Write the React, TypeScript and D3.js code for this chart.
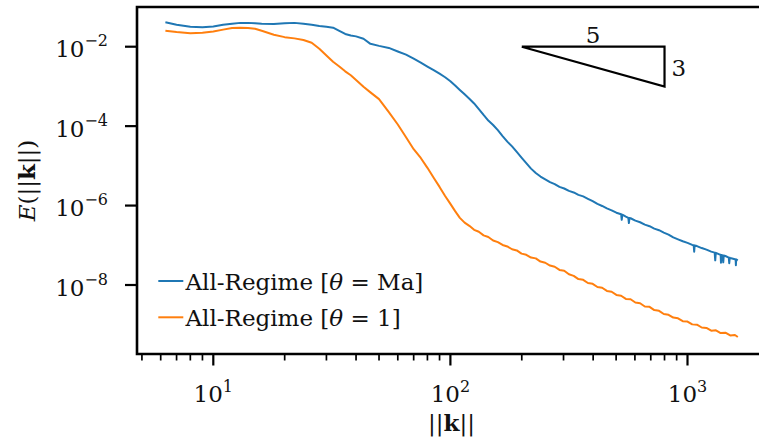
import React from 'react';
import * as d3 from 'd3';

// ---------- data ----------
const kValues = [
  6.28, 7, 8, 9, 10, 11, 12, 13, 14, 15, 16, 18, 20, 22, 24, 26, 28, 30, 32, 34, 36, 38, 40, 43, 46, 50,
  55, 60, 65, 70, 75, 80, 85, 90, 95,
  100, 104.7, 109.6, 114.8, 120.2, 125.9, 131.8, 138.0, 144.5, 151.4, 158.5, 166.0, 173.8, 182.0, 190.5,
  199.5, 208.9, 218.8, 229.1, 239.9, 251.2, 263.0, 275.4, 288.4, 302.0, 316.2, 331.1, 346.7, 363.1, 380.2,
  398.1, 416.9, 436.5, 457.1, 478.6, 501.2, 524.8, 549.5, 575.4, 602.6, 631.0, 660.7, 691.8, 724.4, 758.6,
  794.3, 831.8, 871.0, 912.0, 955.0, 1000, 1047, 1096, 1148, 1202, 1259, 1318, 1380, 1445, 1514, 1585, 1630,
];

const blueE = [
  4.12e-2, 3.55e-2, 3.16e-2, 3.09e-2, 3.24e-2, 3.55e-2, 3.80e-2, 3.98e-2, 3.98e-2, 3.89e-2, 3.80e-2, 3.72e-2,
  3.89e-2, 3.98e-2, 3.80e-2, 3.55e-2, 3.31e-2, 3.16e-2, 3.02e-2, 2.51e-2, 2.09e-2, 1.91e-2, 1.82e-2, 1.58e-2,
  1.18e-2, 1.05e-2, 9.33e-3, 7.59e-3, 6.31e-3, 5.01e-3, 3.98e-3, 3.16e-3, 2.57e-3, 2.09e-3, 1.70e-3,
  1.35e-3, 1.05e-3, 8.13e-4, 6.31e-4, 4.90e-4, 3.72e-4, 2.69e-4, 1.91e-4, 1.38e-4, 1.07e-4, 7.94e-5, 5.62e-5,
  4.07e-5, 3.09e-5, 2.24e-5, 1.62e-5, 1.17e-5, 8.51e-6, 6.61e-6, 5.37e-6, 4.57e-6, 3.89e-6, 3.47e-6, 2.95e-6,
  2.69e-6, 2.34e-6, 2.14e-6, 1.86e-6, 1.70e-6, 1.48e-6, 1.29e-6, 1.10e-6, 9.77e-7, 8.51e-7, 7.59e-7, 6.61e-7,
  6.03e-7, 5.25e-7, 4.79e-7, 4.17e-7, 3.80e-7, 3.31e-7, 3.02e-7, 2.63e-7, 2.40e-7, 2.09e-7, 1.86e-7, 1.58e-7,
  1.41e-7, 1.26e-7, 1.15e-7, 1.02e-7, 9.55e-8, 8.51e-8, 7.76e-8, 6.92e-8, 6.46e-8, 5.75e-8, 5.37e-8, 4.79e-8,
  4.47e-8, 4.17e-8,
];

// narrow downward spikes of the blue spectrum at high wavenumber
const blueSpikes: [number, number][] = [
  [525, 5.96e-7], [528, 4.37e-7], [531, 5.89e-7],
  [563, 4.90e-7], [566, 3.63e-7], [569, 4.84e-7],
  [1062, 1.00e-7], [1067, 6.92e-8], [1072, 9.90e-8],
  [1302, 6.53e-8], [1309, 4.17e-8], [1316, 6.46e-8],
  [1377, 5.75e-8], [1384, 3.63e-8], [1391, 5.70e-8],
  [1408, 5.56e-8], [1415, 3.72e-8], [1422, 5.50e-8],
  [1493, 4.90e-8], [1500, 3.55e-8], [1507, 4.84e-8],
  [1596, 4.42e-8], [1600, 3.16e-8], [1604, 4.40e-8],
];

const orangeE = [
  2.51e-2, 2.34e-2, 2.19e-2, 2.24e-2, 2.40e-2, 2.69e-2, 2.95e-2, 3.02e-2, 2.95e-2, 2.82e-2, 2.51e-2, 2.00e-2,
  1.74e-2, 1.62e-2, 1.48e-2, 1.26e-2, 8.91e-3, 6.03e-3, 4.17e-3, 3.16e-3, 2.40e-3, 1.91e-3, 1.45e-3, 9.77e-4,
  7.08e-4, 4.79e-4, 2.24e-4, 1.10e-4, 5.25e-5, 2.63e-5, 1.58e-5, 8.91e-6, 5.01e-6, 2.95e-6, 1.74e-6,
  1.10e-6, 7.24e-7, 4.90e-7, 3.72e-7, 3.09e-7, 2.45e-7, 2.19e-7, 1.78e-7, 1.62e-7, 1.32e-7, 1.20e-7, 1.02e-7,
  9.33e-8, 7.94e-8, 7.41e-8, 6.17e-8, 5.75e-8, 4.90e-8, 4.68e-8, 3.89e-8, 3.63e-8, 3.09e-8, 2.88e-8, 2.40e-8,
  2.29e-8, 1.86e-8, 1.70e-8, 1.41e-8, 1.35e-8, 1.12e-8, 1.07e-8,
  8.91e-9, 8.51e-9, 7.08e-9, 6.76e-9, 5.62e-9, 5.37e-9, 4.47e-9, 4.37e-9, 3.63e-9, 3.47e-9, 2.88e-9, 2.82e-9,
  2.34e-9, 2.24e-9, 1.86e-9, 1.78e-9, 1.51e-9, 1.45e-9, 1.23e-9, 1.20e-9, 1.02e-9, 1.00e-9,
  8.51e-10, 8.32e-10, 7.08e-10, 7.24e-10, 6.17e-10, 6.31e-10, 5.37e-10, 5.50e-10, 4.90e-10,
];

const seriesLabels = ['Ma', '1'];
const seriesColors = ['#1f77b4', '#ff7f0e'];

const xMajorTicks = [10, 100, 1000];
const xMajorExp = ['1', '2', '3'];
const xMinorTicks = [5, 6, 7, 8, 9, 20, 30, 40, 50, 60, 70, 80, 90, 200, 300, 400, 500, 600, 700, 800, 900];
const yMajorTicks = [1e-2, 1e-4, 1e-6, 1e-8];
const yMajorExp = ['\u22122', '\u22124', '\u22126', '\u22128'];

// slope triangle (k^{-5/3})
const triK = [200, 800];
const triE = [1e-2, 9.92e-4];

// ---------- layout ----------
const W = 759;
const H = 441;
const AX = { left: 137, right: 766, top: 7, bottom: 354 };
const FONT = 'DejaVu Serif';
const FS = 23;
const SUP = 16;

export default function App() {
  const x = d3.scaleLog().domain([10, 1000]).range([213.3, 687.5]);
  const y = d3.scaleLog().domain([1e-2, 1e-8]).range([46.7, 285]);
  const line = d3
    .line<[number, number]>()
    .x((d) => x(d[0]))
    .y((d) => y(d[1]));

  const bluePts: [number, number][] = kValues
    .map((k, i) => [k, blueE[i]] as [number, number])
    .concat(blueSpikes)
    .sort((a, b) => a[0] - b[0]);
  const orangePts: [number, number][] = kValues.map((k, i) => [k, orangeE[i]] as [number, number]);

  const triPath = line([
    [triK[0], triE[0]],
    [triK[1], triE[0]],
    [triK[1], triE[1]],
    [triK[0], triE[0]],
  ] as [number, number][]);

  const legendY = [281, 317.3];

  return (
    <svg
      width={W}
      height={H}
      style={{ position: 'absolute', left: 0, top: 0, background: '#fff' }}
      fontFamily={FONT}
    >
      <rect x={0} y={0} width={W} height={H} fill="#fff" />

      {/* curves */}
      <path d={line(bluePts) || ''} fill="none" stroke={seriesColors[0]} strokeWidth={2} strokeLinejoin="round" />
      <path d={line(orangePts) || ''} fill="none" stroke={seriesColors[1]} strokeWidth={2} strokeLinejoin="round" />

      {/* slope triangle */}
      <path d={triPath || ''} fill="none" stroke="#000" strokeWidth={2.2} strokeLinejoin="miter" />
      <text x={(x(triK[0]) + x(triK[1])) / 2} y={y(triE[0]) - 3.5} fontSize={FS} textAnchor="middle" fill="#111">
        5
      </text>
      <text x={x(triK[1]) + 7} y={(y(triE[0]) + y(triE[1])) / 2 + 9} fontSize={FS} fill="#111">
        3
      </text>

      {/* spines */}
      <path
        d={`M${AX.left},${AX.top}H${AX.right}M${AX.left},${AX.bottom}H${AX.right}M${AX.left},${AX.top - 1.25}V${AX.bottom + 1.25}M${AX.right},${AX.top}V${AX.bottom}`}
        stroke="#000"
        strokeWidth={2.6}
        fill="none"
      />

      {/* x ticks */}
      {xMinorTicks.map((t) => (
        <line key={'xm' + t} x1={x(t)} x2={x(t)} y1={AX.bottom} y2={AX.bottom + 6.5} stroke="#000" strokeWidth={1.7} />
      ))}
      {xMajorTicks.map((t, i) => (
        <g key={'xM' + t}>
          <line x1={x(t)} x2={x(t)} y1={AX.bottom} y2={AX.bottom + 11.5} stroke="#000" strokeWidth={2.2} />
          <text x={x(t)} y={401.5} fontSize={FS} textAnchor="middle" fill="#111">
            10
            <tspan fontSize={SUP} dy={-10}>
              {xMajorExp[i]}
            </tspan>
          </text>
        </g>
      ))}

      {/* y ticks */}
      {yMajorTicks.map((t, i) => (
        <g key={'yM' + t}>
          <line x1={AX.left - 12} x2={AX.left} y1={y(t)} y2={y(t)} stroke="#000" strokeWidth={2.2} />
          <text x={108} y={y(t) + 10.5} fontSize={FS} textAnchor="end" fill="#111">
            10
            <tspan fontSize={SUP} dy={-11}>
              {yMajorExp[i]}
            </tspan>
          </text>
        </g>
      ))}

      {/* axis labels */}
      <text x={(AX.left + AX.right) / 2} y={431} fontSize={FS} textAnchor="middle" fill="#111">
        ||<tspan fontWeight="bold">k</tspan>||
      </text>
      <text transform={`translate(35,${(AX.top + AX.bottom) / 2}) rotate(-90)`} fontSize={FS} textAnchor="middle" fill="#111">
        <tspan fontStyle="italic">E</tspan>(||<tspan fontWeight="bold">k</tspan>||)
      </text>

      {/* legend */}
      {seriesLabels.map((lab, i) => (
        <g key={'leg' + i}>
          <line x1={158.3} x2={183.3} y1={legendY[i]} y2={legendY[i]} stroke={seriesColors[i]} strokeWidth={2} />
          <text x={185.5} y={legendY[i] + 9} fontSize={FS} fill="#111">
            All-Regime [<tspan fontStyle="italic">θ</tspan> = {lab}]
          </text>
        </g>
      ))}
    </svg>
  );
}
